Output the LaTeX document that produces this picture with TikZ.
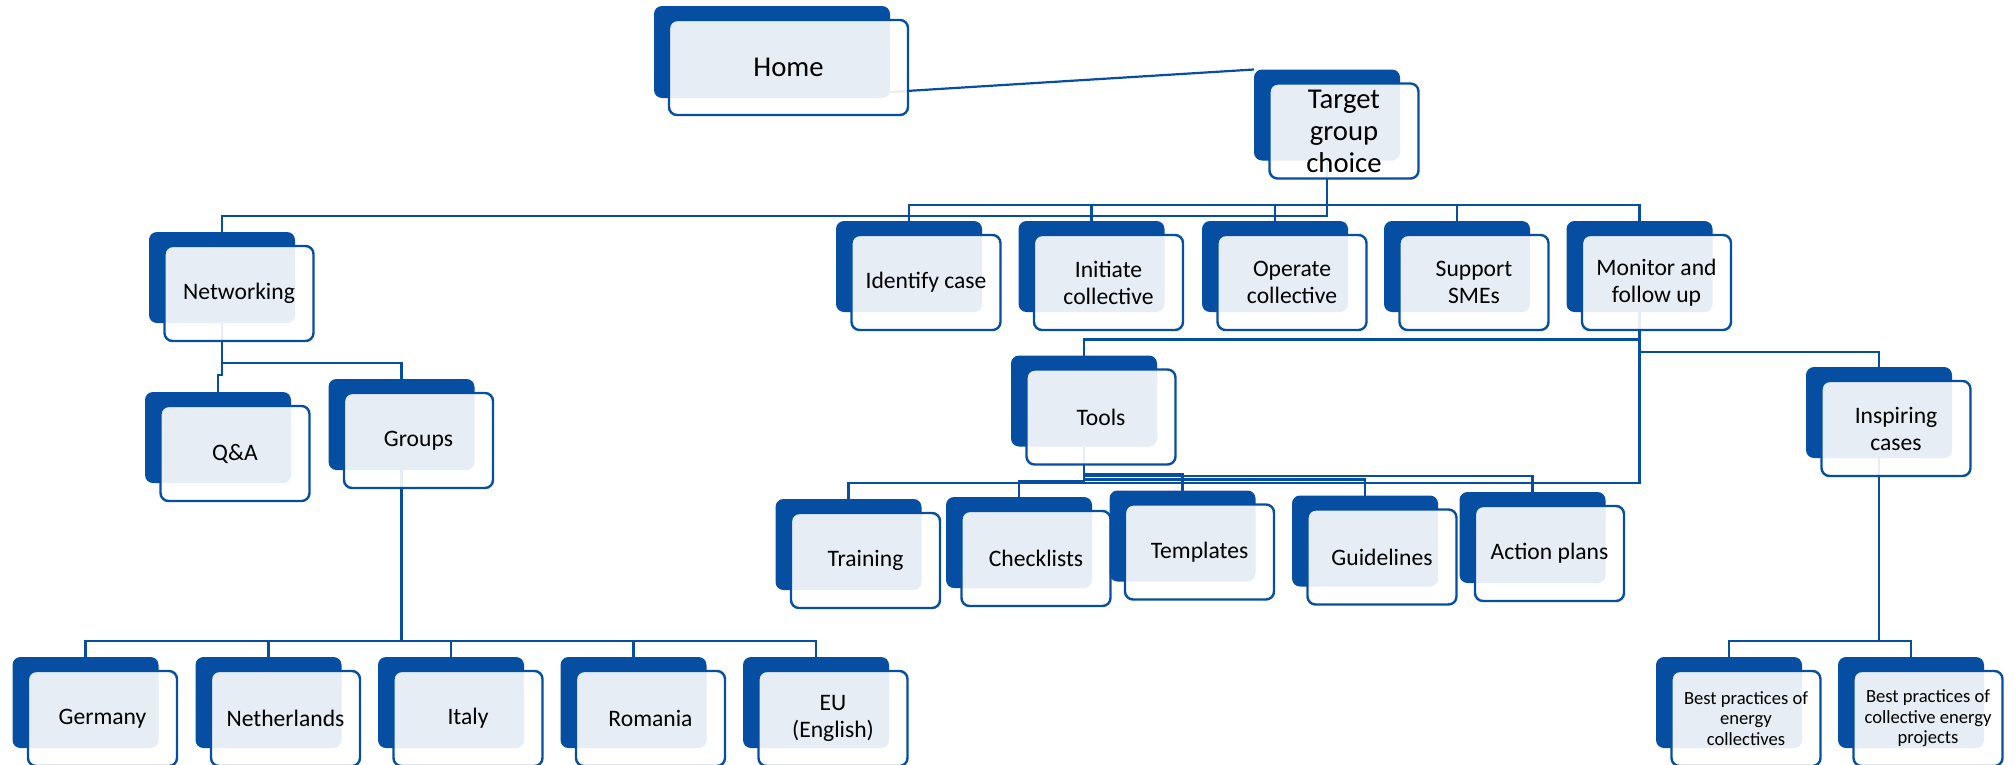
\documentclass[tikz,border=0pt]{standalone}
\usepackage{fontspec}
\setmainfont{Carlito}
\usetikzlibrary{calc}
\definecolor{dkblue}{RGB}{5,78,162}
\pgfdeclarelayer{bg}
\pgfsetlayers{bg,main}
\tikzset{
  backbox/.style={fill=dkblue, rounded corners=8pt, minimum width=146pt, minimum height=91pt, inner sep=0pt, outer sep=0pt},
  frontbox/.style={draw=dkblue, line width=2.4pt, fill=white, fill opacity=0.9, text opacity=1, rounded corners=8pt,
    minimum width=149pt, minimum height=95pt, inner sep=2pt, align=center, text=black,
    font=\fontsize{23.6pt}{27pt}\selectfont},
  conn/.style={draw=dkblue, line width=2.2pt},
  bigtext/.style={font=\fontsize{28.7pt}{32pt}\selectfont},
  smalltext/.style={font=\fontsize{18.6pt}{20.5pt}\selectfont},
}
\newcommand\pairbox[4][]{%
  \node[backbox] (#2B) at (#3) {};
  \node[frontbox,#1] (#2) at ($(#2B.center)+(17,-16)$) {#4};
}
\begin{document}
\begin{tikzpicture}[x=1pt,y=1pt]
\useasboundingbox (0,0) rectangle (2015,-764);
% top
\node[backbox, minimum width=236pt, minimum height=92pt] (homeB) at (772,-52) {};
\node[frontbox, bigtext, minimum width=239pt] (home) at ($(homeB.center)+(16.5,-15.5)$) {Home};
\pairbox[bigtext]{tgt}{1327,-115}{Target\\group\\choice}
% level 2
\pairbox{netw}{222,-277.5}{Networking}
\pairbox{ident}{909,-266.5}{Identify case}
\pairbox{init}{1091.5,-266.5}{Initiate\\collective}
\pairbox{oper}{1275,-266.5}{Operate\\collective}
\pairbox{supp}{1457,-266.5}{Support\\SMEs}
\pairbox{moni}{1639.5,-266.5}{Monitor and\\follow up}
% level 3
\pairbox{qa}{218,-437.5}{Q\&A}
\pairbox{groups}{401.5,-424.5}{Groups}
\pairbox{tools}{1084,-401}{Tools}
\pairbox{insp}{1879,-412.5}{Inspiring\\cases}
% tools children
\pairbox{train}{848.5,-544.5}{Training}
\pairbox{check}{1019,-542.5}{Checklists}
\pairbox{templ}{1182.5,-536}{Templates}
\pairbox{guide}{1365,-541}{Guidelines}
\pairbox{action}{1532.5,-537.5}{Action plans}
% groups children
\pairbox{germany}{85.5,-702.5}{Germany}
\pairbox{neth}{268.5,-702.5}{Netherlands}
\pairbox{italy}{451,-702.5}{Italy}
\pairbox{romania}{633.5,-702.5}{Romania}
\pairbox{eu}{816,-702.5}{EU\\(English)}
% inspiring children
\pairbox[smalltext]{bpa}{1729,-702.5}{Best practices of\\energy\\collectives}
\pairbox[smalltext]{bpb}{1911,-702.5}{Best practices of\\collective energy\\projects}

\begin{pgfonlayer}{bg}
\draw[conn] ([yshift=6pt]homeB.south east) -- (tgtB.north west);
% target to level 2
\draw[conn] (tgtB.south) |- ($(netwB.north)+(0,16)$) -- (netwB.north);
\draw[conn] (identB.north) -- ++(0,16) -| (moniB.north);
\draw[conn] (initB.north) -- ++(0,16);
\draw[conn] (operB.north) -- ++(0,16);
\draw[conn] (suppB.north) -- ++(0,16);
% networking
\draw[conn] (netwB.south) |- ($(groupsB.north)+(0,16)$) -- (groupsB.north);
\draw[conn] (netwB.south) -- ++(0,-52) -| (qaB.north);
% groups
\draw[conn] (germanyB.north) -- ++(0,16) -| (euB.north);
\draw[conn] (nethB.north) -- ++(0,16);
\draw[conn] (italyB.north) -- ++(0,16);
\draw[conn] (romaniaB.north) -- ++(0,16);
\draw[conn] (groupsB.south) -- ($(groupsB.south |- germanyB.north)+(0,16)$);
% monitor
\draw[conn] (moniB.south) |- ($(toolsB.north)+(0,16)$) -- (toolsB.north);
\draw[conn] (moniB.south) |- ($(inspB.north)+(0,15)$) -- (inspB.north);
\draw[conn] (moniB.south) |- ($(trainB.north)+(0,16)$) -- (trainB.north);
% tools
\draw[conn] (toolsB.south) |- ($(checkB.north)+(0,16)$) -- (checkB.north);
\draw[conn] (toolsB.south) |- ($(templB.north)+(0,16)$) -- (templB.north);
\draw[conn] (toolsB.south) |- ($(guideB.north)+(0,16)$) -- (guideB.north);
\draw[conn] (toolsB.south) |- ($(actionB.north)+(0,16)$) -- (actionB.north);
% inspiring
\draw[conn] (bpaB.north) -- ++(0,16) -| (bpbB.north);
\draw[conn] (inspB.south) -- ($(inspB.south |- bpaB.north)+(0,16)$);
\end{pgfonlayer}
\end{tikzpicture}
\end{document}
